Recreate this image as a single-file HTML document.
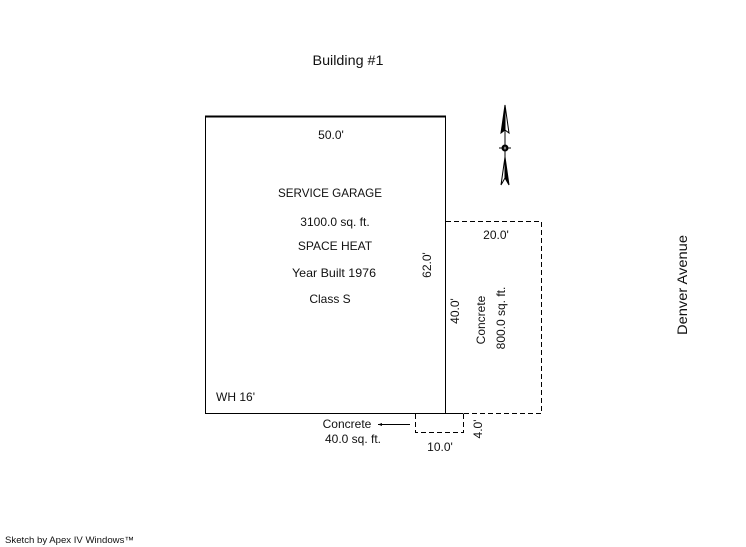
<!DOCTYPE html>
<html>
<head>
<meta charset="utf-8">
<style>
html,body{margin:0;padding:0;background:#fff;}
svg{display:block;}
text{font-family:"Liberation Sans",sans-serif;font-size:12px;fill:#111;}
</style>
</head>
<body>
<svg width="746" height="547" viewBox="0 0 746 547" xmlns="http://www.w3.org/2000/svg">
<rect width="746" height="547" fill="#fff"/>
<g fill="none" stroke="#000" stroke-width="1" shape-rendering="crispEdges">
<path d="M205.5 116.5V413.5H463.5"/>
<path d="M445.5 116.5V413"/>
<path d="M205 116.5H446" stroke-width="2"/>
<path d="M446 221.5H541.5V413.5H464" stroke-dasharray="5 3"/>
<path d="M415.5 414V432.5H463.5V414" stroke-dasharray="5 3"/>
<path d="M378 424.5H410"/>
</g>
<path d="M378 424.5l4-1.5v3z" fill="#000"/>
<path d="M505 105L501 133L505 130Z" fill="#000" stroke="#000" stroke-width="1"/>
<path d="M505 105L509 133L505 130" fill="#fff" stroke="#000" stroke-width="1"/>
<path d="M505 105V157" stroke="#000" stroke-width="1" fill="none"/>
<circle cx="505" cy="148" r="3.5" fill="#000"/>
<circle cx="505" cy="148" r="1.3" fill="#fff"/>
<path d="M499 148H511" stroke="#000" stroke-width="1"/>
<path d="M505 157L501 185L505 178" fill="#fff" stroke="#000" stroke-width="1"/>
<path d="M505 157L509 185L505 178Z" fill="#000" stroke="#000" stroke-width="1"/>
<text x="348" y="65" text-anchor="middle" style="font-size:14px" textLength="71" lengthAdjust="spacingAndGlyphs">Building #1</text>
<text x="331" y="139" text-anchor="middle">50.0'</text>
<text x="330" y="197" text-anchor="middle" textLength="104" lengthAdjust="spacingAndGlyphs">SERVICE GARAGE</text>
<text x="335" y="226" text-anchor="middle">3100.0 sq. ft.</text>
<text x="335" y="250" text-anchor="middle">SPACE HEAT</text>
<text x="334" y="277" text-anchor="middle" textLength="84" lengthAdjust="spacingAndGlyphs">Year Built 1976</text>
<text x="330" y="303" text-anchor="middle">Class S</text>
<text x="235.500" y="401" text-anchor="middle">WH 16'</text>
<text x="347" y="428" text-anchor="middle">Concrete</text>
<text x="353" y="443" text-anchor="middle">40.0 sq. ft.</text>
<text x="440" y="451" text-anchor="middle">10.0'</text>
<text x="496" y="239" text-anchor="middle">20.0'</text>
<text transform="translate(431 265) rotate(-90)" text-anchor="middle">62.0'</text>
<text transform="translate(459 311) rotate(-90)" text-anchor="middle">40.0'</text>
<text transform="translate(485 320) rotate(-90)" text-anchor="middle">Concrete</text>
<text transform="translate(505 318) rotate(-90)" text-anchor="middle">800.0 sq. ft.</text>
<text transform="translate(482 429) rotate(-90)" text-anchor="middle">4.0'</text>
<text transform="translate(687 285) rotate(-90)" text-anchor="middle" style="font-size:14px" textLength="100" lengthAdjust="spacingAndGlyphs">Denver Avenue</text>
<text x="5" y="543" style="font-size:9px" textLength="129" lengthAdjust="spacingAndGlyphs">Sketch by Apex IV Windows™</text>
</svg>
</body>
</html>
